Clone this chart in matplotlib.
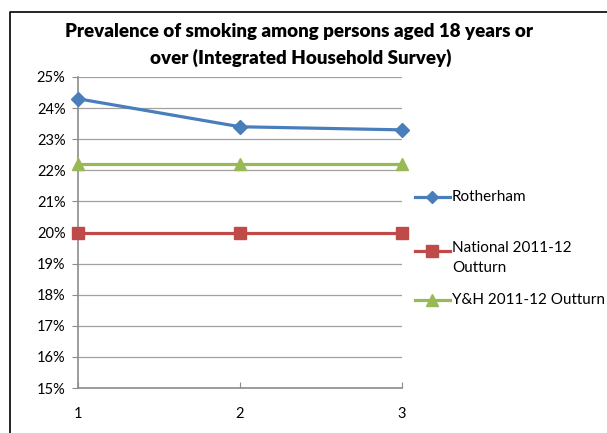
import matplotlib.pyplot as plt
from matplotlib.lines import Line2D
from matplotlib.ticker import FuncFormatter

plt.rcParams['font.family'] = ['Lato', 'DejaVu Sans']

years = [1, 2, 3]
rotherham = [24.3, 23.4, 23.3]
national = [20.0, 20.0, 20.0]
yh = [22.2, 22.2, 22.2]
labels = ['Rotherham', 'National 2011-12\nOutturn', 'Y&H 2011-12 Outturn']

blue = '#4A7EBB'
red = '#BE4B48'
green = '#98B954'
grey = '#8C8C8C'

fig = plt.figure(figsize=(6.07, 4.33), dpi=100)
ax = fig.add_axes([78/607, 1 - 388/433, (402 - 78)/607, (388 - 77)/433])

ax.plot(years, rotherham, color=blue, lw=2.3, marker='D', ms=7, zorder=3, clip_on=False)
ax.plot(years, national, color=red, lw=2.3, marker='s', ms=8.5, zorder=3, clip_on=False)
ax.plot(years, yh, color=green, lw=2.3, marker='^', ms=9, zorder=3, clip_on=False)

ax.set_xlim(1, 3)
ax.set_ylim(15, 25)
ax.set_xticks(years)
ax.set_yticks(range(15, 26))
ax.yaxis.set_major_formatter(FuncFormatter(lambda v, p: '%d%%' % v))
ax.grid(axis='y', color='#A0A0A0', lw=0.9)
ax.set_axisbelow(True)
for s in ['top', 'right']:
    ax.spines[s].set_visible(False)
for s in ['left', 'bottom']:
    ax.spines[s].set_color(grey)
    ax.spines[s].set_linewidth(1.2)
ax.tick_params(axis='y', length=4, color=grey, labelsize=10.5, pad=5)
ax.tick_params(axis='x', length=4, color=grey, labelsize=10.5, pad=14, direction='in')

fig.text(299/607, 1 - 31/433, 'Prevalence of smoking among persons aged 18 years or',
         ha='center', va='center', fontsize=13.5, fontweight='heavy')
fig.text(301/607, 1 - 58/433, 'over (Integrated Household Survey)',
         ha='center', va='center', fontsize=13.5, fontweight='heavy')

# legend drawn by hand so the marker sits on the first text line
leg = [(blue, 'D', 6, 197), (red, 's', 8, 251), (green, '^', 8, 300)]
for (c, m, ms, ypix), lab in zip(leg, labels):
    y = 1 - ypix/433
    fig.add_artist(Line2D([415/607, 450/607], [y, y], color=c, lw=2.3,
                          transform=fig.transFigure))
    fig.add_artist(Line2D([432/607], [y], color=c, marker=m, ms=ms, lw=0,
                          transform=fig.transFigure))
    fig.text(452/607, y, lab, ha='left', va='top' if '\n' in lab else 'center',
             fontsize=11, linespacing=1.5)
fig.texts[-2].set_y(1 - 241/433)

# chart frame
fig.add_artist(Line2D([10/607, 10/607, 1], [0, 1 - 12/433, 1 - 12/433],
                      color='black', lw=1.2, transform=fig.transFigure))

fig.savefig('out.png', dpi=100)
